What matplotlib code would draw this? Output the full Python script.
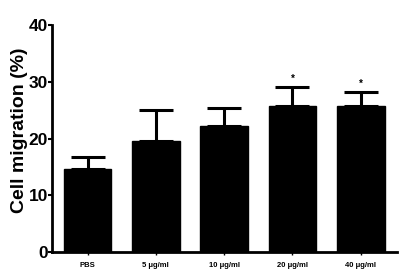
import matplotlib
matplotlib.use("Agg")
import matplotlib.pyplot as plt

categories = ["PBS", "5 \u03bcg/ml", "10 \u03bcg/ml", "20 \u03bcg/ml", "40 \u03bcg/ml"]
values = [14.6, 19.6, 22.2, 25.7, 25.7]
errors = [2.1, 5.4, 3.2, 3.4, 2.5]
significance = ["", "", "", "*", "*"]
yticks = [0, 10, 20, 30, 40]

plt.rcParams['font.family'] = ['Liberation Sans', 'DejaVu Sans']

fig = plt.figure(figsize=(4.0, 2.76), dpi=100)
ax = fig.add_axes([0.13, 0.087, 0.8625, 0.822])

x = list(range(len(categories)))
ax.bar(x, values, width=0.7, color="black", edgecolor="black")
ax.errorbar(x, values, yerr=[[0]*len(values), errors], fmt="none",
            ecolor="black", elinewidth=2.2, capsize=12, capthick=2.2)
for xi, v, e, s in zip(x, values, errors, significance):
    if s:
        ax.text(xi, v + e + 0.6, s, ha="center", va="bottom", fontsize=7, fontweight="bold")

ax.set_xlim(-0.52, 4.53)
ax.set_ylim(0, 40)
ax.set_yticks(yticks)
ax.set_xticks(x)
ax.set_xticklabels(categories, fontsize=5.5, fontweight="bold")
for lbl in ax.get_yticklabels():
    lbl.set_fontsize(12.5)
    lbl.set_fontweight("bold")
ax.set_ylabel("Cell migration (%)", fontsize=14, fontweight="bold")
ax.yaxis.set_label_coords(-0.07, 0.535)

ax.spines["top"].set_visible(False)
ax.spines["right"].set_visible(False)
ax.spines["left"].set_linewidth(2)
ax.spines["bottom"].set_linewidth(2)
ax.tick_params(axis="y", direction="out", length=3, width=1.5, pad=0)
ax.tick_params(axis="x", direction="out", length=2, width=1, pad=5)

fig.savefig("out.png", dpi=100)
